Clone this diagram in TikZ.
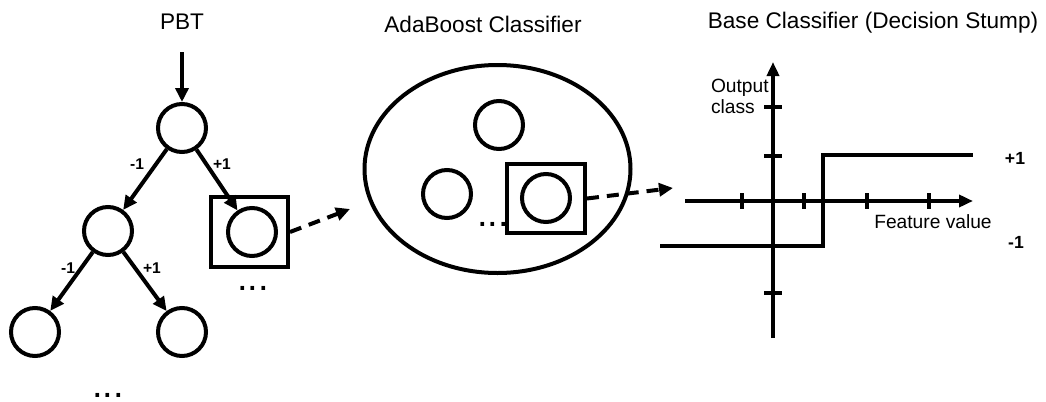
\documentclass[tikz,border=0pt]{standalone}
\usepackage{fontspec}
\setmainfont{Liberation Sans}
\usetikzlibrary{arrows.meta,shapes.geometric}
\begin{document}
\begin{tikzpicture}[x=0.5pt,y=-0.5pt,
  line width=2pt,
  tip/.style={-{Triangle[length=7pt,width=6.5pt]}},
  nd/.style={circle,draw,minimum size=24pt,inner sep=0pt},
  sq/.style={draw,rectangle,inner sep=0pt},
  title/.style={font=\fontsize{11.3}{13}\selectfont},
  lbl/.style={font=\bfseries\fontsize{7.8}{8}\selectfont,inner sep=0pt},
  lblb/.style={font=\bfseries\fontsize{8.8}{9}\selectfont,inner sep=0pt},
  ax/.style={font=\fontsize{9.6}{10.5}\selectfont,inner sep=0pt},
  dots/.style={font=\fontsize{19}{20}\selectfont,inner sep=0pt,anchor=base},
  dsh/.style={dash pattern=on 6pt off 4pt}
]
\useasboundingbox (0,0) rectangle (1046,402);
% ---------- PBT ----------
\node[title] (tpbt) at (182,22) {PBT};
\coordinate (in) at (182,52);
\node[nd] (r) at (182,128) {};
\node[nd] (l) at (108,231) {};
\node[sq,minimum width=38.5pt,minimum height=35pt] (box1) at (249.5,232) {};
\node[nd] (rc) at (252,232) {};
\node[nd] (ll) at (35,332) {};
\node[nd] (lr) at (182,332) {};
\node[dots] (d1) at (253,290) {...};
\node[dots] (d2) at (108,397) {...};
\draw[tip] (in) -- (r);
\draw[tip] (r) -- (l);
\draw[tip] (r) -- (rc);
\draw[tip] (l) -- (ll);
\draw[tip] (l) -- (lr);
\node[lbl] (e1) at (137,164) {-1};
\node[lbl] (e2) at (222,164) {+1};
\node[lbl] (e3) at (68,268) {-1};
\node[lbl] (e4) at (152,268) {+1};
% ---------- AdaBoost ----------
\node[title] (tada) at (483,24) {AdaBoost Classifier};
\node[ellipse,draw,minimum width=133pt,minimum height=104pt,inner sep=0pt] (ell) at (497.5,169) {};
\node[nd] (a1) at (499,125) {};
\node[nd] (a2) at (447,194) {};
\node[sq,minimum width=39pt,minimum height=34.5pt] (box2) at (546,198.5) {};
\node[nd] (a3) at (546,198) {};
\node[dots] (d3) at (493,226) {...};
\coordinate (t1) at (350,209);
\draw[tip,dsh] (box1.east) -- (t1);
% ---------- Stump ----------
\node[title] (tst) at (873,23) {Base Classifier (Decision Stump)};
\coordinate (xs) at (685,201);
\coordinate (xe) at (973,201);
\coordinate (ys) at (773,338);
\coordinate (ye) at (773,62);
\coordinate (t2) at (673,188);
\draw[tip,dsh] (box2.east) -- (t2);
\draw[-{Triangle[length=7pt,width=6pt]}] (xs) -- (xe);
\draw[-{Triangle[length=7pt,width=6pt]}] (ys) -- (ye);
\foreach \x in {742,804,867,929} \draw (\x,193) -- (\x,209);
\foreach \y in {107,156,293} \draw (764,\y) -- (782,\y);
\draw (660,246) -- (823,246) -- (823,155) -- (973,155);
\node[lblb] (p1) at (1015,158) {+1};
\node[lblb] (m1) at (1016,242) {-1};
\node[ax,align=left,anchor=north west] (oc) at (709,77) {Output\\class};
\node[ax] (fv) at (933,222) {Feature value};
\end{tikzpicture}
\end{document}
